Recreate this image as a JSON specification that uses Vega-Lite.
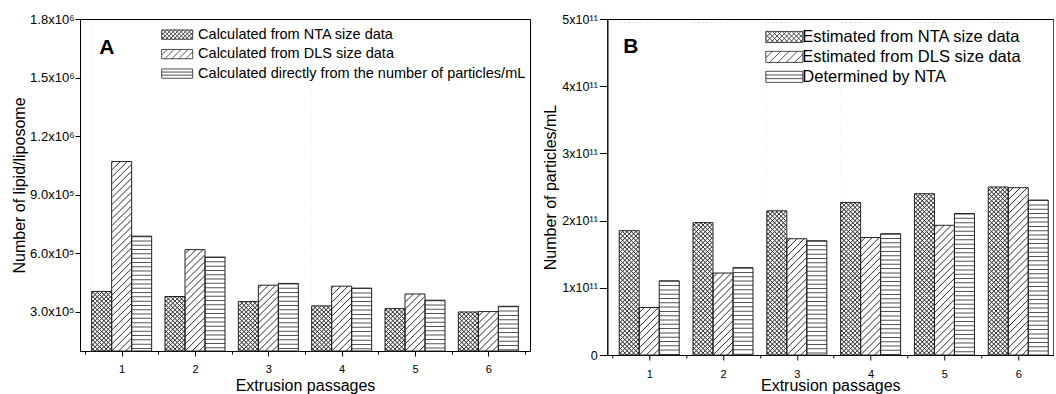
{
"$schema": "https://vega.github.io/schema/vega-lite/v6.json",
"background": "white",
"padding": {"left": 10, "top": 12, "right": 0, "bottom": 0},
"spacing": 10.3,
"params": [
  {"name": "gxa", "value": {"gradient": "linear", "x1": 0, "y1": 0, "x2": 0.0638, "y2": 1.0566, "stops": [
{"offset":0,"color":"#fff"},{"offset":0.003,"color":"#333"},{"offset":0.006,"color":"#fff"},{"offset":0.0125,"color":"#fff"},{"offset":0.0155,"color":"#333"},{"offset":0.0185,"color":"#fff"},{"offset":0.025,"color":"#fff"},{"offset":0.028,"color":"#333"},{"offset":0.031,"color":"#fff"},{"offset":0.0375,"color":"#fff"},{"offset":0.0405,"color":"#333"},{"offset":0.0435,"color":"#fff"},{"offset":0.05,"color":"#fff"},{"offset":0.053,"color":"#333"},{"offset":0.056,"color":"#fff"},{"offset":0.0625,"color":"#fff"},{"offset":0.0655,"color":"#333"},{"offset":0.0685,"color":"#fff"},{"offset":0.075,"color":"#fff"},{"offset":0.078,"color":"#333"},{"offset":0.081,"color":"#fff"},{"offset":0.0875,"color":"#fff"},{"offset":0.0905,"color":"#333"},{"offset":0.0935,"color":"#fff"},
{"offset":0.1,"color":"#fff"},{"offset":0.103,"color":"#333"},{"offset":0.106,"color":"#fff"},{"offset":0.1125,"color":"#fff"},{"offset":0.1155,"color":"#333"},{"offset":0.1185,"color":"#fff"},{"offset":0.125,"color":"#fff"},{"offset":0.128,"color":"#333"},{"offset":0.131,"color":"#fff"},{"offset":0.1375,"color":"#fff"},{"offset":0.1405,"color":"#333"},{"offset":0.1435,"color":"#fff"},{"offset":0.15,"color":"#fff"},{"offset":0.153,"color":"#333"},{"offset":0.156,"color":"#fff"},{"offset":0.1625,"color":"#fff"},{"offset":0.1655,"color":"#333"},{"offset":0.1685,"color":"#fff"},{"offset":0.175,"color":"#fff"},{"offset":0.178,"color":"#333"},{"offset":0.181,"color":"#fff"},{"offset":0.1875,"color":"#fff"},{"offset":0.1905,"color":"#333"},{"offset":0.1935,"color":"#fff"},
{"offset":0.2,"color":"#fff"},{"offset":0.203,"color":"#333"},{"offset":0.206,"color":"#fff"},{"offset":0.2125,"color":"#fff"},{"offset":0.2155,"color":"#333"},{"offset":0.2185,"color":"#fff"},{"offset":0.225,"color":"#fff"},{"offset":0.228,"color":"#333"},{"offset":0.231,"color":"#fff"},{"offset":0.2375,"color":"#fff"},{"offset":0.2405,"color":"#333"},{"offset":0.2435,"color":"#fff"},{"offset":0.25,"color":"#fff"},{"offset":0.253,"color":"#333"},{"offset":0.256,"color":"#fff"},{"offset":0.2625,"color":"#fff"},{"offset":0.2655,"color":"#333"},{"offset":0.2685,"color":"#fff"},{"offset":0.275,"color":"#fff"},{"offset":0.278,"color":"#333"},{"offset":0.281,"color":"#fff"},{"offset":0.2875,"color":"#fff"},{"offset":0.2905,"color":"#333"},{"offset":0.2935,"color":"#fff"},
{"offset":0.3,"color":"#fff"},{"offset":0.303,"color":"#333"},{"offset":0.306,"color":"#fff"},{"offset":0.3125,"color":"#fff"},{"offset":0.3155,"color":"#333"},{"offset":0.3185,"color":"#fff"},{"offset":0.325,"color":"#fff"},{"offset":0.328,"color":"#333"},{"offset":0.331,"color":"#fff"},{"offset":0.3375,"color":"#fff"},{"offset":0.3405,"color":"#333"},{"offset":0.3435,"color":"#fff"},{"offset":0.35,"color":"#fff"},{"offset":0.353,"color":"#333"},{"offset":0.356,"color":"#fff"},{"offset":0.3625,"color":"#fff"},{"offset":0.3655,"color":"#333"},{"offset":0.3685,"color":"#fff"},{"offset":0.375,"color":"#fff"},{"offset":0.378,"color":"#333"},{"offset":0.381,"color":"#fff"},{"offset":0.3875,"color":"#fff"},{"offset":0.3905,"color":"#333"},{"offset":0.3935,"color":"#fff"},
{"offset":0.4,"color":"#fff"},{"offset":0.403,"color":"#333"},{"offset":0.406,"color":"#fff"},{"offset":0.4125,"color":"#fff"},{"offset":0.4155,"color":"#333"},{"offset":0.4185,"color":"#fff"},{"offset":0.425,"color":"#fff"},{"offset":0.428,"color":"#333"},{"offset":0.431,"color":"#fff"},{"offset":0.4375,"color":"#fff"},{"offset":0.4405,"color":"#333"},{"offset":0.4435,"color":"#fff"},{"offset":0.45,"color":"#fff"},{"offset":0.453,"color":"#333"},{"offset":0.456,"color":"#fff"},{"offset":0.4625,"color":"#fff"},{"offset":0.4655,"color":"#333"},{"offset":0.4685,"color":"#fff"},{"offset":0.475,"color":"#fff"},{"offset":0.478,"color":"#333"},{"offset":0.481,"color":"#fff"},{"offset":0.4875,"color":"#fff"},{"offset":0.4905,"color":"#333"},{"offset":0.4935,"color":"#fff"},
{"offset":0.5,"color":"#fff"},{"offset":0.503,"color":"#333"},{"offset":0.506,"color":"#fff"},{"offset":0.5125,"color":"#fff"},{"offset":0.5155,"color":"#333"},{"offset":0.5185,"color":"#fff"},{"offset":0.525,"color":"#fff"},{"offset":0.528,"color":"#333"},{"offset":0.531,"color":"#fff"},{"offset":0.5375,"color":"#fff"},{"offset":0.5405,"color":"#333"},{"offset":0.5435,"color":"#fff"},{"offset":0.55,"color":"#fff"},{"offset":0.553,"color":"#333"},{"offset":0.556,"color":"#fff"},{"offset":0.5625,"color":"#fff"},{"offset":0.5655,"color":"#333"},{"offset":0.5685,"color":"#fff"},{"offset":0.575,"color":"#fff"},{"offset":0.578,"color":"#333"},{"offset":0.581,"color":"#fff"},{"offset":0.5875,"color":"#fff"},{"offset":0.5905,"color":"#333"},{"offset":0.5935,"color":"#fff"},
{"offset":0.6,"color":"#fff"},{"offset":0.603,"color":"#333"},{"offset":0.606,"color":"#fff"},{"offset":0.6125,"color":"#fff"},{"offset":0.6155,"color":"#333"},{"offset":0.6185,"color":"#fff"},{"offset":0.625,"color":"#fff"},{"offset":0.628,"color":"#333"},{"offset":0.631,"color":"#fff"},{"offset":0.6375,"color":"#fff"},{"offset":0.6405,"color":"#333"},{"offset":0.6435,"color":"#fff"},{"offset":0.65,"color":"#fff"},{"offset":0.653,"color":"#333"},{"offset":0.656,"color":"#fff"},{"offset":0.6625,"color":"#fff"},{"offset":0.6655,"color":"#333"},{"offset":0.6685,"color":"#fff"},{"offset":0.675,"color":"#fff"},{"offset":0.678,"color":"#333"},{"offset":0.681,"color":"#fff"},{"offset":0.6875,"color":"#fff"},{"offset":0.6905,"color":"#333"},{"offset":0.6935,"color":"#fff"},
{"offset":0.7,"color":"#fff"},{"offset":0.703,"color":"#333"},{"offset":0.706,"color":"#fff"},{"offset":0.7125,"color":"#fff"},{"offset":0.7155,"color":"#333"},{"offset":0.7185,"color":"#fff"},{"offset":0.725,"color":"#fff"},{"offset":0.728,"color":"#333"},{"offset":0.731,"color":"#fff"},{"offset":0.7375,"color":"#fff"},{"offset":0.7405,"color":"#333"},{"offset":0.7435,"color":"#fff"},{"offset":0.75,"color":"#fff"},{"offset":0.753,"color":"#333"},{"offset":0.756,"color":"#fff"},{"offset":0.7625,"color":"#fff"},{"offset":0.7655,"color":"#333"},{"offset":0.7685,"color":"#fff"},{"offset":0.775,"color":"#fff"},{"offset":0.778,"color":"#333"},{"offset":0.781,"color":"#fff"},{"offset":0.7875,"color":"#fff"},{"offset":0.7905,"color":"#333"},{"offset":0.7935,"color":"#fff"},
{"offset":0.8,"color":"#fff"},{"offset":0.803,"color":"#333"},{"offset":0.806,"color":"#fff"},{"offset":0.8125,"color":"#fff"},{"offset":0.8155,"color":"#333"},{"offset":0.8185,"color":"#fff"},{"offset":0.825,"color":"#fff"},{"offset":0.828,"color":"#333"},{"offset":0.831,"color":"#fff"},{"offset":0.8375,"color":"#fff"},{"offset":0.8405,"color":"#333"},{"offset":0.8435,"color":"#fff"},{"offset":0.85,"color":"#fff"},{"offset":0.853,"color":"#333"},{"offset":0.856,"color":"#fff"},{"offset":0.8625,"color":"#fff"},{"offset":0.8655,"color":"#333"},{"offset":0.8685,"color":"#fff"},{"offset":0.875,"color":"#fff"},{"offset":0.878,"color":"#333"},{"offset":0.881,"color":"#fff"},{"offset":0.8875,"color":"#fff"},{"offset":0.8905,"color":"#333"},{"offset":0.8935,"color":"#fff"},
{"offset":0.9,"color":"#fff"},{"offset":0.903,"color":"#333"},{"offset":0.906,"color":"#fff"},{"offset":0.9125,"color":"#fff"},{"offset":0.9155,"color":"#333"},{"offset":0.9185,"color":"#fff"},{"offset":0.925,"color":"#fff"},{"offset":0.928,"color":"#333"},{"offset":0.931,"color":"#fff"},{"offset":0.9375,"color":"#fff"},{"offset":0.9405,"color":"#333"},{"offset":0.9435,"color":"#fff"},{"offset":0.95,"color":"#fff"},{"offset":0.953,"color":"#333"},{"offset":0.956,"color":"#fff"},{"offset":0.9625,"color":"#fff"},{"offset":0.9655,"color":"#333"},{"offset":0.9685,"color":"#fff"},{"offset":0.975,"color":"#fff"},{"offset":0.978,"color":"#333"},{"offset":0.981,"color":"#fff"},{"offset":0.9875,"color":"#fff"},{"offset":0.9905,"color":"#333"},{"offset":0.9935,"color":"#fff"}
  ]}},
  {"name": "gxb", "value": {"gradient": "linear", "x1": 1, "y1": 0, "x2": 0.9362, "y2": 1.0566, "stops": [
{"offset":0,"color":"transparent"},{"offset":0.003,"color":"#333"},{"offset":0.006,"color":"transparent"},{"offset":0.0125,"color":"transparent"},{"offset":0.0155,"color":"#333"},{"offset":0.0185,"color":"transparent"},{"offset":0.025,"color":"transparent"},{"offset":0.028,"color":"#333"},{"offset":0.031,"color":"transparent"},{"offset":0.0375,"color":"transparent"},{"offset":0.0405,"color":"#333"},{"offset":0.0435,"color":"transparent"},{"offset":0.05,"color":"transparent"},{"offset":0.053,"color":"#333"},{"offset":0.056,"color":"transparent"},{"offset":0.0625,"color":"transparent"},{"offset":0.0655,"color":"#333"},{"offset":0.0685,"color":"transparent"},{"offset":0.075,"color":"transparent"},{"offset":0.078,"color":"#333"},{"offset":0.081,"color":"transparent"},{"offset":0.0875,"color":"transparent"},{"offset":0.0905,"color":"#333"},{"offset":0.0935,"color":"transparent"},
{"offset":0.1,"color":"transparent"},{"offset":0.103,"color":"#333"},{"offset":0.106,"color":"transparent"},{"offset":0.1125,"color":"transparent"},{"offset":0.1155,"color":"#333"},{"offset":0.1185,"color":"transparent"},{"offset":0.125,"color":"transparent"},{"offset":0.128,"color":"#333"},{"offset":0.131,"color":"transparent"},{"offset":0.1375,"color":"transparent"},{"offset":0.1405,"color":"#333"},{"offset":0.1435,"color":"transparent"},{"offset":0.15,"color":"transparent"},{"offset":0.153,"color":"#333"},{"offset":0.156,"color":"transparent"},{"offset":0.1625,"color":"transparent"},{"offset":0.1655,"color":"#333"},{"offset":0.1685,"color":"transparent"},{"offset":0.175,"color":"transparent"},{"offset":0.178,"color":"#333"},{"offset":0.181,"color":"transparent"},{"offset":0.1875,"color":"transparent"},{"offset":0.1905,"color":"#333"},{"offset":0.1935,"color":"transparent"},
{"offset":0.2,"color":"transparent"},{"offset":0.203,"color":"#333"},{"offset":0.206,"color":"transparent"},{"offset":0.2125,"color":"transparent"},{"offset":0.2155,"color":"#333"},{"offset":0.2185,"color":"transparent"},{"offset":0.225,"color":"transparent"},{"offset":0.228,"color":"#333"},{"offset":0.231,"color":"transparent"},{"offset":0.2375,"color":"transparent"},{"offset":0.2405,"color":"#333"},{"offset":0.2435,"color":"transparent"},{"offset":0.25,"color":"transparent"},{"offset":0.253,"color":"#333"},{"offset":0.256,"color":"transparent"},{"offset":0.2625,"color":"transparent"},{"offset":0.2655,"color":"#333"},{"offset":0.2685,"color":"transparent"},{"offset":0.275,"color":"transparent"},{"offset":0.278,"color":"#333"},{"offset":0.281,"color":"transparent"},{"offset":0.2875,"color":"transparent"},{"offset":0.2905,"color":"#333"},{"offset":0.2935,"color":"transparent"},
{"offset":0.3,"color":"transparent"},{"offset":0.303,"color":"#333"},{"offset":0.306,"color":"transparent"},{"offset":0.3125,"color":"transparent"},{"offset":0.3155,"color":"#333"},{"offset":0.3185,"color":"transparent"},{"offset":0.325,"color":"transparent"},{"offset":0.328,"color":"#333"},{"offset":0.331,"color":"transparent"},{"offset":0.3375,"color":"transparent"},{"offset":0.3405,"color":"#333"},{"offset":0.3435,"color":"transparent"},{"offset":0.35,"color":"transparent"},{"offset":0.353,"color":"#333"},{"offset":0.356,"color":"transparent"},{"offset":0.3625,"color":"transparent"},{"offset":0.3655,"color":"#333"},{"offset":0.3685,"color":"transparent"},{"offset":0.375,"color":"transparent"},{"offset":0.378,"color":"#333"},{"offset":0.381,"color":"transparent"},{"offset":0.3875,"color":"transparent"},{"offset":0.3905,"color":"#333"},{"offset":0.3935,"color":"transparent"},
{"offset":0.4,"color":"transparent"},{"offset":0.403,"color":"#333"},{"offset":0.406,"color":"transparent"},{"offset":0.4125,"color":"transparent"},{"offset":0.4155,"color":"#333"},{"offset":0.4185,"color":"transparent"},{"offset":0.425,"color":"transparent"},{"offset":0.428,"color":"#333"},{"offset":0.431,"color":"transparent"},{"offset":0.4375,"color":"transparent"},{"offset":0.4405,"color":"#333"},{"offset":0.4435,"color":"transparent"},{"offset":0.45,"color":"transparent"},{"offset":0.453,"color":"#333"},{"offset":0.456,"color":"transparent"},{"offset":0.4625,"color":"transparent"},{"offset":0.4655,"color":"#333"},{"offset":0.4685,"color":"transparent"},{"offset":0.475,"color":"transparent"},{"offset":0.478,"color":"#333"},{"offset":0.481,"color":"transparent"},{"offset":0.4875,"color":"transparent"},{"offset":0.4905,"color":"#333"},{"offset":0.4935,"color":"transparent"},
{"offset":0.5,"color":"transparent"},{"offset":0.503,"color":"#333"},{"offset":0.506,"color":"transparent"},{"offset":0.5125,"color":"transparent"},{"offset":0.5155,"color":"#333"},{"offset":0.5185,"color":"transparent"},{"offset":0.525,"color":"transparent"},{"offset":0.528,"color":"#333"},{"offset":0.531,"color":"transparent"},{"offset":0.5375,"color":"transparent"},{"offset":0.5405,"color":"#333"},{"offset":0.5435,"color":"transparent"},{"offset":0.55,"color":"transparent"},{"offset":0.553,"color":"#333"},{"offset":0.556,"color":"transparent"},{"offset":0.5625,"color":"transparent"},{"offset":0.5655,"color":"#333"},{"offset":0.5685,"color":"transparent"},{"offset":0.575,"color":"transparent"},{"offset":0.578,"color":"#333"},{"offset":0.581,"color":"transparent"},{"offset":0.5875,"color":"transparent"},{"offset":0.5905,"color":"#333"},{"offset":0.5935,"color":"transparent"},
{"offset":0.6,"color":"transparent"},{"offset":0.603,"color":"#333"},{"offset":0.606,"color":"transparent"},{"offset":0.6125,"color":"transparent"},{"offset":0.6155,"color":"#333"},{"offset":0.6185,"color":"transparent"},{"offset":0.625,"color":"transparent"},{"offset":0.628,"color":"#333"},{"offset":0.631,"color":"transparent"},{"offset":0.6375,"color":"transparent"},{"offset":0.6405,"color":"#333"},{"offset":0.6435,"color":"transparent"},{"offset":0.65,"color":"transparent"},{"offset":0.653,"color":"#333"},{"offset":0.656,"color":"transparent"},{"offset":0.6625,"color":"transparent"},{"offset":0.6655,"color":"#333"},{"offset":0.6685,"color":"transparent"},{"offset":0.675,"color":"transparent"},{"offset":0.678,"color":"#333"},{"offset":0.681,"color":"transparent"},{"offset":0.6875,"color":"transparent"},{"offset":0.6905,"color":"#333"},{"offset":0.6935,"color":"transparent"},
{"offset":0.7,"color":"transparent"},{"offset":0.703,"color":"#333"},{"offset":0.706,"color":"transparent"},{"offset":0.7125,"color":"transparent"},{"offset":0.7155,"color":"#333"},{"offset":0.7185,"color":"transparent"},{"offset":0.725,"color":"transparent"},{"offset":0.728,"color":"#333"},{"offset":0.731,"color":"transparent"},{"offset":0.7375,"color":"transparent"},{"offset":0.7405,"color":"#333"},{"offset":0.7435,"color":"transparent"},{"offset":0.75,"color":"transparent"},{"offset":0.753,"color":"#333"},{"offset":0.756,"color":"transparent"},{"offset":0.7625,"color":"transparent"},{"offset":0.7655,"color":"#333"},{"offset":0.7685,"color":"transparent"},{"offset":0.775,"color":"transparent"},{"offset":0.778,"color":"#333"},{"offset":0.781,"color":"transparent"},{"offset":0.7875,"color":"transparent"},{"offset":0.7905,"color":"#333"},{"offset":0.7935,"color":"transparent"},
{"offset":0.8,"color":"transparent"},{"offset":0.803,"color":"#333"},{"offset":0.806,"color":"transparent"},{"offset":0.8125,"color":"transparent"},{"offset":0.8155,"color":"#333"},{"offset":0.8185,"color":"transparent"},{"offset":0.825,"color":"transparent"},{"offset":0.828,"color":"#333"},{"offset":0.831,"color":"transparent"},{"offset":0.8375,"color":"transparent"},{"offset":0.8405,"color":"#333"},{"offset":0.8435,"color":"transparent"},{"offset":0.85,"color":"transparent"},{"offset":0.853,"color":"#333"},{"offset":0.856,"color":"transparent"},{"offset":0.8625,"color":"transparent"},{"offset":0.8655,"color":"#333"},{"offset":0.8685,"color":"transparent"},{"offset":0.875,"color":"transparent"},{"offset":0.878,"color":"#333"},{"offset":0.881,"color":"transparent"},{"offset":0.8875,"color":"transparent"},{"offset":0.8905,"color":"#333"},{"offset":0.8935,"color":"transparent"},
{"offset":0.9,"color":"transparent"},{"offset":0.903,"color":"#333"},{"offset":0.906,"color":"transparent"},{"offset":0.9125,"color":"transparent"},{"offset":0.9155,"color":"#333"},{"offset":0.9185,"color":"transparent"},{"offset":0.925,"color":"transparent"},{"offset":0.928,"color":"#333"},{"offset":0.931,"color":"transparent"},{"offset":0.9375,"color":"transparent"},{"offset":0.9405,"color":"#333"},{"offset":0.9435,"color":"transparent"},{"offset":0.95,"color":"transparent"},{"offset":0.953,"color":"#333"},{"offset":0.956,"color":"transparent"},{"offset":0.9625,"color":"transparent"},{"offset":0.9655,"color":"#333"},{"offset":0.9685,"color":"transparent"},{"offset":0.975,"color":"transparent"},{"offset":0.978,"color":"#333"},{"offset":0.981,"color":"transparent"},{"offset":0.9875,"color":"transparent"},{"offset":0.9905,"color":"#333"},{"offset":0.9935,"color":"transparent"}
  ]}},
  {"name": "gdg", "value": {"gradient": "linear", "x1": 0, "y1": 0, "x2": 0.0638, "y2": 1.0566, "stops": [
{"offset":0,"color":"#fff"},{"offset":0.003,"color":"#333"},{"offset":0.006,"color":"#fff"},{"offset":0.02,"color":"#fff"},{"offset":0.023,"color":"#333"},{"offset":0.026,"color":"#fff"},{"offset":0.04,"color":"#fff"},{"offset":0.043,"color":"#333"},{"offset":0.046,"color":"#fff"},{"offset":0.06,"color":"#fff"},{"offset":0.063,"color":"#333"},{"offset":0.066,"color":"#fff"},{"offset":0.08,"color":"#fff"},{"offset":0.083,"color":"#333"},{"offset":0.086,"color":"#fff"},
{"offset":0.1,"color":"#fff"},{"offset":0.103,"color":"#333"},{"offset":0.106,"color":"#fff"},{"offset":0.12,"color":"#fff"},{"offset":0.123,"color":"#333"},{"offset":0.126,"color":"#fff"},{"offset":0.14,"color":"#fff"},{"offset":0.143,"color":"#333"},{"offset":0.146,"color":"#fff"},{"offset":0.16,"color":"#fff"},{"offset":0.163,"color":"#333"},{"offset":0.166,"color":"#fff"},{"offset":0.18,"color":"#fff"},{"offset":0.183,"color":"#333"},{"offset":0.186,"color":"#fff"},
{"offset":0.2,"color":"#fff"},{"offset":0.203,"color":"#333"},{"offset":0.206,"color":"#fff"},{"offset":0.22,"color":"#fff"},{"offset":0.223,"color":"#333"},{"offset":0.226,"color":"#fff"},{"offset":0.24,"color":"#fff"},{"offset":0.243,"color":"#333"},{"offset":0.246,"color":"#fff"},{"offset":0.26,"color":"#fff"},{"offset":0.263,"color":"#333"},{"offset":0.266,"color":"#fff"},{"offset":0.28,"color":"#fff"},{"offset":0.283,"color":"#333"},{"offset":0.286,"color":"#fff"},
{"offset":0.3,"color":"#fff"},{"offset":0.303,"color":"#333"},{"offset":0.306,"color":"#fff"},{"offset":0.32,"color":"#fff"},{"offset":0.323,"color":"#333"},{"offset":0.326,"color":"#fff"},{"offset":0.34,"color":"#fff"},{"offset":0.343,"color":"#333"},{"offset":0.346,"color":"#fff"},{"offset":0.36,"color":"#fff"},{"offset":0.363,"color":"#333"},{"offset":0.366,"color":"#fff"},{"offset":0.38,"color":"#fff"},{"offset":0.383,"color":"#333"},{"offset":0.386,"color":"#fff"},
{"offset":0.4,"color":"#fff"},{"offset":0.403,"color":"#333"},{"offset":0.406,"color":"#fff"},{"offset":0.42,"color":"#fff"},{"offset":0.423,"color":"#333"},{"offset":0.426,"color":"#fff"},{"offset":0.44,"color":"#fff"},{"offset":0.443,"color":"#333"},{"offset":0.446,"color":"#fff"},{"offset":0.46,"color":"#fff"},{"offset":0.463,"color":"#333"},{"offset":0.466,"color":"#fff"},{"offset":0.48,"color":"#fff"},{"offset":0.483,"color":"#333"},{"offset":0.486,"color":"#fff"},
{"offset":0.5,"color":"#fff"},{"offset":0.503,"color":"#333"},{"offset":0.506,"color":"#fff"},{"offset":0.52,"color":"#fff"},{"offset":0.523,"color":"#333"},{"offset":0.526,"color":"#fff"},{"offset":0.54,"color":"#fff"},{"offset":0.543,"color":"#333"},{"offset":0.546,"color":"#fff"},{"offset":0.56,"color":"#fff"},{"offset":0.563,"color":"#333"},{"offset":0.566,"color":"#fff"},{"offset":0.58,"color":"#fff"},{"offset":0.583,"color":"#333"},{"offset":0.586,"color":"#fff"},
{"offset":0.6,"color":"#fff"},{"offset":0.603,"color":"#333"},{"offset":0.606,"color":"#fff"},{"offset":0.62,"color":"#fff"},{"offset":0.623,"color":"#333"},{"offset":0.626,"color":"#fff"},{"offset":0.64,"color":"#fff"},{"offset":0.643,"color":"#333"},{"offset":0.646,"color":"#fff"},{"offset":0.66,"color":"#fff"},{"offset":0.663,"color":"#333"},{"offset":0.666,"color":"#fff"},{"offset":0.68,"color":"#fff"},{"offset":0.683,"color":"#333"},{"offset":0.686,"color":"#fff"},
{"offset":0.7,"color":"#fff"},{"offset":0.703,"color":"#333"},{"offset":0.706,"color":"#fff"},{"offset":0.72,"color":"#fff"},{"offset":0.723,"color":"#333"},{"offset":0.726,"color":"#fff"},{"offset":0.74,"color":"#fff"},{"offset":0.743,"color":"#333"},{"offset":0.746,"color":"#fff"},{"offset":0.76,"color":"#fff"},{"offset":0.763,"color":"#333"},{"offset":0.766,"color":"#fff"},{"offset":0.78,"color":"#fff"},{"offset":0.783,"color":"#333"},{"offset":0.786,"color":"#fff"},
{"offset":0.8,"color":"#fff"},{"offset":0.803,"color":"#333"},{"offset":0.806,"color":"#fff"},{"offset":0.82,"color":"#fff"},{"offset":0.823,"color":"#333"},{"offset":0.826,"color":"#fff"},{"offset":0.84,"color":"#fff"},{"offset":0.843,"color":"#333"},{"offset":0.846,"color":"#fff"},{"offset":0.86,"color":"#fff"},{"offset":0.863,"color":"#333"},{"offset":0.866,"color":"#fff"},{"offset":0.88,"color":"#fff"},{"offset":0.883,"color":"#333"},{"offset":0.886,"color":"#fff"},
{"offset":0.9,"color":"#fff"},{"offset":0.903,"color":"#333"},{"offset":0.906,"color":"#fff"},{"offset":0.92,"color":"#fff"},{"offset":0.923,"color":"#333"},{"offset":0.926,"color":"#fff"},{"offset":0.94,"color":"#fff"},{"offset":0.943,"color":"#333"},{"offset":0.946,"color":"#fff"},{"offset":0.96,"color":"#fff"},{"offset":0.963,"color":"#333"},{"offset":0.966,"color":"#fff"},{"offset":0.98,"color":"#fff"},{"offset":0.983,"color":"#333"},{"offset":0.986,"color":"#fff"}
  ]}}
],
"config": {
  "font": "Liberation Sans",
  "view": {"stroke": "#000", "strokeWidth": 1},
  "axis": {"zindex": 1, "grid": false, "domainColor": "#000", "tickColor": "#000", "labelColor": "#000", "titleColor": "#000", "titleFontWeight": "normal", "labelFlush": false, "labelOverlap": false, "labelBound": false, "domainWidth": 1, "tickWidth": 1},
  "legend": {"padding": 0, "labelColor": "#000", "labelLimit": 600, "symbolStrokeColor": "#222", "symbolStrokeWidth": 0.8, "symbolFillColor": "#fff", "symbolOpacity": 1}
},
"datasets": {
  "lipid": [
    {"passage": 1, "series": "Calculated from NTA size data", "value": 405000},
    {"passage": 1, "series": "Calculated from DLS size data", "value": 1070000},
    {"passage": 1, "series": "Calculated directly from the number of particles/mL", "value": 688000},
    {"passage": 2, "series": "Calculated from NTA size data", "value": 379000},
    {"passage": 2, "series": "Calculated from DLS size data", "value": 619000},
    {"passage": 2, "series": "Calculated directly from the number of particles/mL", "value": 581000},
    {"passage": 3, "series": "Calculated from NTA size data", "value": 353000},
    {"passage": 3, "series": "Calculated from DLS size data", "value": 437000},
    {"passage": 3, "series": "Calculated directly from the number of particles/mL", "value": 446000},
    {"passage": 4, "series": "Calculated from NTA size data", "value": 331000},
    {"passage": 4, "series": "Calculated from DLS size data", "value": 432000},
    {"passage": 4, "series": "Calculated directly from the number of particles/mL", "value": 422000},
    {"passage": 5, "series": "Calculated from NTA size data", "value": 317000},
    {"passage": 5, "series": "Calculated from DLS size data", "value": 392000},
    {"passage": 5, "series": "Calculated directly from the number of particles/mL", "value": 360000},
    {"passage": 6, "series": "Calculated from NTA size data", "value": 300000},
    {"passage": 6, "series": "Calculated from DLS size data", "value": 302000},
    {"passage": 6, "series": "Calculated directly from the number of particles/mL", "value": 329000}
  ],
  "particles": [
    {"passage": 1, "series": "Estimated from NTA size data", "value": 185000000000},
    {"passage": 1, "series": "Estimated from DLS size data", "value": 70700000000},
    {"passage": 1, "series": "Determined by NTA", "value": 110400000000},
    {"passage": 2, "series": "Estimated from NTA size data", "value": 197000000000},
    {"passage": 2, "series": "Estimated from DLS size data", "value": 122000000000},
    {"passage": 2, "series": "Determined by NTA", "value": 130000000000},
    {"passage": 3, "series": "Estimated from NTA size data", "value": 214500000000},
    {"passage": 3, "series": "Estimated from DLS size data", "value": 173000000000},
    {"passage": 3, "series": "Determined by NTA", "value": 170000000000},
    {"passage": 4, "series": "Estimated from NTA size data", "value": 227000000000},
    {"passage": 4, "series": "Estimated from DLS size data", "value": 174800000000},
    {"passage": 4, "series": "Determined by NTA", "value": 180500000000},
    {"passage": 5, "series": "Estimated from NTA size data", "value": 240000000000},
    {"passage": 5, "series": "Estimated from DLS size data", "value": 193000000000},
    {"passage": 5, "series": "Determined by NTA", "value": 210500000000},
    {"passage": 6, "series": "Estimated from NTA size data", "value": 250000000000},
    {"passage": 6, "series": "Estimated from DLS size data", "value": 249000000000},
    {"passage": 6, "series": "Determined by NTA", "value": 230500000000}
  ]
},
"resolve": {"scale": {"shape": "independent"}, "legend": {"shape": "independent"}},
"hconcat": [
{
  "width": 450, "height": 332,
  "data": {"name": "lipid"},
  "encoding": {"x": {"field": "passage", "type": "quantitative", "scale": {"domain": [0.5, 6.5], "nice": false, "zero": false},
    "axis": {"title": "Extrusion passages", "values": [0.5,1,1.5,2,2.5,3,3.5,4,4.5,5,5.5,6,6.5], "labelExpr": "datum.value % 1 === 0 ? format(datum.value, 'd') : ''", "labelOverlap": false, "tickSize": {"condition": {"test": "datum.value % 1 === 0", "value": 5}, "value": 3}, "labelFontSize": 11, "labelPadding": 7.5, "titleFontSize": 16, "titlePadding": 2.5}}},
  "layer": [
    {"mark": {"type": "point", "filled": false, "color": "#000", "opacity": 1, "strokeWidth": 0.8},
     "encoding": {
       "y": {"field": "value", "type": "quantitative", "scale": {"domain": [100000, 1800000], "nice": false, "zero": false},
         "axis": {"title": "Number of lipid/liposome", "values": [300000,450000,600000,750000,900000,1050000,1200000,1350000,1500000,1650000,1800000], "labelExpr": "datum.value == 300000 ? '3.0x10⁵' : datum.value == 600000 ? '6.0x10⁵' : datum.value == 900000 ? '9.0x10⁵' : datum.value == 1200000 ? '1.2x10⁶' : datum.value == 1500000 ? '1.5x10⁶' : datum.value == 1800000 ? '1.8x10⁶' : ''", "labelOverlap": false, "tickSize": {"condition": {"test": "datum.value % 300000 === 0", "value": 5}, "value": 3}, "labelFontSize": 13, "labelPadding": 1, "titleFontSize": 16, "titlePadding": 2.5}},
       "shape": {"field": "series", "type": "nominal",
         "scale": {"domain": ["Calculated from NTA size data", "Calculated from DLS size data", "Calculated directly from the number of particles/mL"],
                   "range": ["M-2,-0.6H2V0.6H-2ZM-2,-0.44L-1.84,-0.6M-2,0.08L-1.32,-0.6M-2,0.6L-0.8,-0.6M-1.48,0.6L-0.28,-0.6M-0.96,0.6L0.24,-0.6M-0.44,0.6L0.76,-0.6M0.08,0.6L1.28,-0.6M0.6,0.6L1.8,-0.6M1.12,0.6L2,-0.28M1.64,0.6L2,0.24M2,-0.44L1.84,-0.6M2,0.08L1.32,-0.6M2,0.6L0.8,-0.6M1.48,0.6L0.28,-0.6M0.96,0.6L-0.24,-0.6M0.44,0.6L-0.76,-0.6M-0.08,0.6L-1.28,-0.6M-0.6,0.6L-1.8,-0.6M-1.12,0.6L-2,-0.28M-1.64,0.6L-2,0.24",
                             "M-2,-0.6H2V0.6H-2ZM-2,0.1L-1.3,-0.6M-1.6,0.6L-0.4,-0.6M-0.7,0.6L0.5,-0.6M0.2,0.6L1.4,-0.6M1.1,0.6L2,-0.3",
                             "M-2,-0.6H2V0.6H-2ZM-2,-0.2H2M-2,0.2H2"]},
         "legend": {"title": null, "orient": "none", "legendX": 88.7, "legendY": 7.1, "symbolSize": 240.25, "labelFontSize": 14.5, "labelOffset": 12.4, "rowPadding": 4.5}}}},
    {"transform": [{"filter": {"field": "series", "equal": "Calculated from NTA size data"}}], "mark": {"type": "bar", "fill": {"expr": "gxa"}, "size": 20, "xOffset": -20}, "encoding": {"y": {"datum": 100000, "type": "quantitative"}, "y2": {"datum": 1780000}}},
    {"transform": [{"filter": {"field": "series", "equal": "Calculated from NTA size data"}}], "mark": {"type": "bar", "fill": {"expr": "gxb"}, "size": 20, "xOffset": -20}, "encoding": {"y": {"datum": 100000, "type": "quantitative"}, "y2": {"datum": 1780000}}},
    {"transform": [{"filter": {"field": "series", "equal": "Calculated from DLS size data"}}], "mark": {"type": "bar", "fill": {"expr": "gdg"}, "size": 20, "xOffset": 0}, "encoding": {"y": {"datum": 100000, "type": "quantitative"}, "y2": {"datum": 1780000}}},
    {"transform": [{"filter": {"field": "series", "equal": "Calculated directly from the number of particles/mL"}}], "mark": {"type": "bar", "fill": "#fff", "size": 20, "xOffset": 20}, "encoding": {"y": {"datum": 100000, "type": "quantitative"}, "y2": {"datum": 1780000}}},
    {"transform": [{"filter": {"field": "series", "equal": "Calculated from NTA size data"}}], "mark": {"type": "bar", "fill": "#fff", "size": 21, "xOffset": -20}, "encoding": {"y": {"field": "value", "type": "quantitative"}, "y2": {"datum": 1780000}}},
    {"transform": [{"filter": {"field": "series", "equal": "Calculated from DLS size data"}}], "mark": {"type": "bar", "fill": "#fff", "size": 21, "xOffset": 0}, "encoding": {"y": {"field": "value", "type": "quantitative"}, "y2": {"datum": 1780000}}},
    {"transform": [{"filter": {"field": "series", "equal": "Calculated directly from the number of particles/mL"}}], "mark": {"type": "bar", "fill": "#fff", "size": 21, "xOffset": 20}, "encoding": {"y": {"field": "value", "type": "quantitative"}, "y2": {"datum": 1780000}}},
    {"transform": [{"filter": {"field": "series", "equal": "Calculated directly from the number of particles/mL"}}], "mark": {"type": "rule", "color": "#555", "strokeWidth": 20, "strokeDash": [1, 3.3], "strokeCap": "butt", "xOffset": 20}, "encoding": {"y": {"field": "value", "type": "quantitative"}, "y2": {"datum": 100000}}},
    {"transform": [{"filter": {"field": "series", "equal": "Calculated from NTA size data"}}], "mark": {"type": "bar", "fill": "transparent", "stroke": "#222", "strokeWidth": 1, "size": 20, "xOffset": -20}, "encoding": {"y": {"field": "value", "type": "quantitative"}, "y2": {"datum": 100000}}},
    {"transform": [{"filter": {"field": "series", "equal": "Calculated from DLS size data"}}], "mark": {"type": "bar", "fill": "transparent", "stroke": "#222", "strokeWidth": 1, "size": 20, "xOffset": 0}, "encoding": {"y": {"field": "value", "type": "quantitative"}, "y2": {"datum": 100000}}},
    {"transform": [{"filter": {"field": "series", "equal": "Calculated directly from the number of particles/mL"}}], "mark": {"type": "bar", "fill": "transparent", "stroke": "#222", "strokeWidth": 1, "size": 20, "xOffset": 20}, "encoding": {"y": {"field": "value", "type": "quantitative"}, "y2": {"datum": 100000}}},
    {"transform": [{"filter": {"field": "series", "equal": "Calculated from NTA size data"}}, {"filter": {"field": "passage", "equal": 1}}], "mark": {"type": "text", "text": "A", "fontSize": 21, "fontWeight": "bold", "align": "left", "baseline": "alphabetic", "color": "#000", "dx": -22.5}, "encoding": {"y": {"datum": 1621000, "type": "quantitative"}}}
  ]
},
{
  "width": 446, "height": 336,
  "data": {"name": "particles"},
  "encoding": {"x": {"field": "passage", "type": "quantitative", "scale": {"domain": [0.5, 6.4073], "nice": false, "zero": false},
    "axis": {"title": "Extrusion passages", "values": [0.5,1,1.5,2,2.5,3,3.5,4,4.5,5,5.5,6], "labelExpr": "datum.value % 1 === 0 ? format(datum.value, 'd') : ''", "labelOverlap": false, "tickSize": {"condition": {"test": "datum.value % 1 === 0", "value": 5}, "value": 3}, "labelFontSize": 11, "labelPadding": 8, "titleFontSize": 16, "titlePadding": -2}}},
  "layer": [
    {"mark": {"type": "point", "filled": false, "color": "#000", "opacity": 1, "strokeWidth": 0.8},
     "encoding": {
       "y": {"field": "value", "type": "quantitative", "scale": {"domain": [0, 500000000000], "nice": false, "zero": false},
         "axis": {"title": "Number of particles/mL", "values": [0,50000000000,100000000000,150000000000,200000000000,250000000000,300000000000,350000000000,400000000000,450000000000,500000000000], "labelExpr": "datum.value == 0 ? '0' : datum.value == 100000000000 ? '1x10¹¹' : datum.value == 200000000000 ? '2x10¹¹' : datum.value == 300000000000 ? '3x10¹¹' : datum.value == 400000000000 ? '4x10¹¹' : datum.value == 500000000000 ? '5x10¹¹' : ''", "labelOverlap": false, "tickSize": {"condition": {"test": "datum.value % 100000000000 === 0", "value": 8}, "value": 4}, "labelFontSize": 12.5, "labelPadding": 2, "titleFontSize": 16, "titlePadding": 3.7}},
       "shape": {"field": "series", "type": "nominal",
         "scale": {"domain": ["Estimated from NTA size data", "Estimated from DLS size data", "Determined by NTA"],
                   "range": ["M-2,-0.6H2V0.6H-2ZM-2,-0.44L-1.84,-0.6M-2,0.08L-1.32,-0.6M-2,0.6L-0.8,-0.6M-1.48,0.6L-0.28,-0.6M-0.96,0.6L0.24,-0.6M-0.44,0.6L0.76,-0.6M0.08,0.6L1.28,-0.6M0.6,0.6L1.8,-0.6M1.12,0.6L2,-0.28M1.64,0.6L2,0.24M2,-0.44L1.84,-0.6M2,0.08L1.32,-0.6M2,0.6L0.8,-0.6M1.48,0.6L0.28,-0.6M0.96,0.6L-0.24,-0.6M0.44,0.6L-0.76,-0.6M-0.08,0.6L-1.28,-0.6M-0.6,0.6L-1.8,-0.6M-1.12,0.6L-2,-0.28M-1.64,0.6L-2,0.24",
                             "M-2,-0.6H2V0.6H-2ZM-2,0.1L-1.3,-0.6M-1.6,0.6L-0.4,-0.6M-0.7,0.6L0.5,-0.6M0.2,0.6L1.4,-0.6M1.1,0.6L2,-0.3",
                             "M-2,-0.6H2V0.6H-2ZM-2,-0.2H2M-2,0.2H2"]},
         "legend": {"title": null, "orient": "none", "legendX": 167, "legendY": 8, "symbolSize": 342.25, "labelFontSize": 16.5, "labelOffset": 8, "rowPadding": 0.9}}}},
    {"transform": [{"filter": {"field": "series", "equal": "Estimated from NTA size data"}}], "mark": {"type": "bar", "fill": {"expr": "gxa"}, "size": 20, "xOffset": -20}, "encoding": {"y": {"datum": 0, "type": "quantitative"}, "y2": {"datum": 495000000000}}},
    {"transform": [{"filter": {"field": "series", "equal": "Estimated from NTA size data"}}], "mark": {"type": "bar", "fill": {"expr": "gxb"}, "size": 20, "xOffset": -20}, "encoding": {"y": {"datum": 0, "type": "quantitative"}, "y2": {"datum": 495000000000}}},
    {"transform": [{"filter": {"field": "series", "equal": "Estimated from DLS size data"}}], "mark": {"type": "bar", "fill": {"expr": "gdg"}, "size": 20, "xOffset": 0}, "encoding": {"y": {"datum": 0, "type": "quantitative"}, "y2": {"datum": 495000000000}}},
    {"transform": [{"filter": {"field": "series", "equal": "Determined by NTA"}}], "mark": {"type": "bar", "fill": "#fff", "size": 20, "xOffset": 20}, "encoding": {"y": {"datum": 0, "type": "quantitative"}, "y2": {"datum": 495000000000}}},
    {"transform": [{"filter": {"field": "series", "equal": "Estimated from NTA size data"}}], "mark": {"type": "bar", "fill": "#fff", "size": 21, "xOffset": -20}, "encoding": {"y": {"field": "value", "type": "quantitative"}, "y2": {"datum": 495000000000}}},
    {"transform": [{"filter": {"field": "series", "equal": "Estimated from DLS size data"}}], "mark": {"type": "bar", "fill": "#fff", "size": 21, "xOffset": 0}, "encoding": {"y": {"field": "value", "type": "quantitative"}, "y2": {"datum": 495000000000}}},
    {"transform": [{"filter": {"field": "series", "equal": "Determined by NTA"}}], "mark": {"type": "bar", "fill": "#fff", "size": 21, "xOffset": 20}, "encoding": {"y": {"field": "value", "type": "quantitative"}, "y2": {"datum": 495000000000}}},
    {"transform": [{"filter": {"field": "series", "equal": "Determined by NTA"}}], "mark": {"type": "rule", "color": "#555", "strokeWidth": 20, "strokeDash": [1, 3.3], "strokeCap": "butt", "xOffset": 20}, "encoding": {"y": {"field": "value", "type": "quantitative"}, "y2": {"datum": 0}}},
    {"transform": [{"filter": {"field": "series", "equal": "Estimated from NTA size data"}}], "mark": {"type": "bar", "fill": "transparent", "stroke": "#222", "strokeWidth": 1, "size": 20, "xOffset": -20}, "encoding": {"y": {"field": "value", "type": "quantitative"}, "y2": {"datum": 0}}},
    {"transform": [{"filter": {"field": "series", "equal": "Estimated from DLS size data"}}], "mark": {"type": "bar", "fill": "transparent", "stroke": "#222", "strokeWidth": 1, "size": 20, "xOffset": 0}, "encoding": {"y": {"field": "value", "type": "quantitative"}, "y2": {"datum": 0}}},
    {"transform": [{"filter": {"field": "series", "equal": "Determined by NTA"}}], "mark": {"type": "bar", "fill": "transparent", "stroke": "#222", "strokeWidth": 1, "size": 20, "xOffset": 20}, "encoding": {"y": {"field": "value", "type": "quantitative"}, "y2": {"datum": 0}}},
    {"transform": [{"filter": {"field": "series", "equal": "Estimated from NTA size data"}}, {"filter": {"field": "passage", "equal": 1}}], "mark": {"type": "text", "text": "B", "fontSize": 21, "fontWeight": "bold", "align": "left", "baseline": "alphabetic", "color": "#000", "dx": -26}, "encoding": {"y": {"datum": 450000000000, "type": "quantitative"}}}
  ]
}
]
}
